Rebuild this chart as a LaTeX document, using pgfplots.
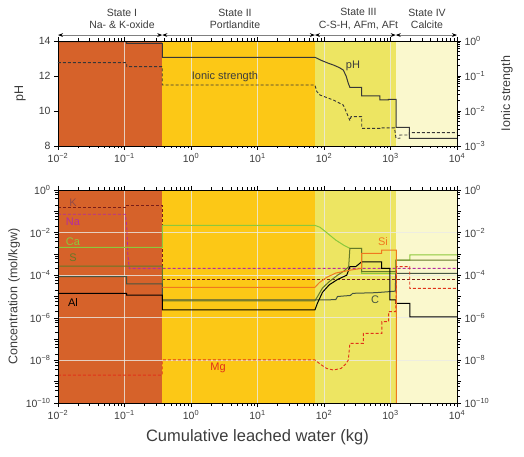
\documentclass[border=0pt]{standalone}
\usepackage{fontspec}
\setmainfont{Liberation Sans}
\usepackage{pgfplots}
\pgfplotsset{compat=1.18}
\usetikzlibrary{arrows.meta}

\definecolor{stI}{RGB}{214,98,42}
\definecolor{stII}{RGB}{252,200,22}
\definecolor{stIII}{RGB}{237,229,98}
\definecolor{stIV}{RGB}{250,248,205}
\definecolor{gridc}{RGB}{235,235,230}
\definecolor{pHc}{RGB}{55,55,55}
\definecolor{Kc}{RGB}{120,30,25}
\definecolor{Nac}{RGB}{180,45,160}
\definecolor{Cac}{RGB}{140,200,60}
\definecolor{Sc}{RGB}{100,120,40}
\definecolor{Cc}{RGB}{70,85,65}
\definecolor{Sic}{RGB}{240,120,30}
\definecolor{Mgc}{RGB}{225,50,25}
\definecolor{txt}{RGB}{60,60,60}

\tikzset{
  ln/.style={line width=1pt},
  ds/.style={line width=0.9pt, dash pattern=on 3pt off 2pt},
  gl/.style={gridc, opacity=0.8, line width=0.8pt},
  sa/.style={gray, line width=0.8pt, {Stealth[black,length=5pt]}-{Stealth[black,length=5pt]}},
}

\begin{document}
\begin{tikzpicture}
\useasboundingbox (-58pt,-54pt) rectangle (466pt,403pt);

%================ TOP PANEL (pH) =================
\begin{axis}[
  at={(0pt,257pt)}, anchor=south west,
  scale only axis, width=399pt, height=105pt,
  /pgf/number format/assume math mode=true,
  xmode=log, xmin=0.01, xmax=10000,
  xtick={0.01,0.1,1,10,100,1000,10000},
  xticklabels={10\textsuperscript{−2},10\textsuperscript{−1},10\textsuperscript{0},10\textsuperscript{1},10\textsuperscript{2},10\textsuperscript{3},10\textsuperscript{4}},
  minor xtick={0.02,0.03,0.04,0.05,0.06,0.07,0.08,0.09,0.2,0.3,0.4,0.5,0.6,0.7,0.8,0.9,2,3,4,5,6,7,8,9,20,30,40,50,60,70,80,90,200,300,400,500,600,700,800,900,2000,3000,4000,5000,6000,7000,8000,9000},
  tick style={black, line width=0.6pt},
  major tick length=4pt, minor tick length=2.5pt,
  axis line style={black, line width=0.8pt},
  tick label style={font=\fontsize{10.5}{12}\selectfont, text=txt},
  axis on top, tick align=outside,
  ymin=8, ymax=14, ytick={8,10,12,14}, ytick pos=left,
  clip=false,
  ylabel={pH},
  ylabel style={at={(axis description cs:-0.095,0.5)}, anchor=center, font=\fontsize{12.5}{14}\selectfont, text=txt}]
  \fill[stI] (axis cs:0.01,8) rectangle (axis cs:0.37,14);
  \fill[stII] (axis cs:0.37,8) rectangle (axis cs:73,14);
  \fill[stIII] (axis cs:73,8) rectangle (axis cs:1200,14);
  \fill[stIV] (axis cs:1200,8) rectangle (axis cs:10000,14);
  \draw[gl] (axis cs:0.1,8) -- (axis cs:0.1,14);
  \draw[gl] (axis cs:1,8) -- (axis cs:1,14);
  \draw[gl] (axis cs:10,8) -- (axis cs:10,14);
  \draw[gl] (axis cs:100,8) -- (axis cs:100,14);
  \draw[gl] (axis cs:1000,8) -- (axis cs:1000,14);
  \draw[sa] (axis cs:0.01,14.34) -- (axis cs:0.37,14.34);
  \draw[sa] (axis cs:0.37,14.34) -- (axis cs:73,14.34);
  \draw[sa] (axis cs:73,14.34) -- (axis cs:1200,14.34);
  \draw[sa] (axis cs:1200,14.34) -- (axis cs:10000,14.34);
  \node[font=\fontsize{10.5}{12.5}\selectfont, text=txt, align=center] at (axis cs:0.0916,15.27) {State I\\Na- \& K-oxide};
  \node[font=\fontsize{10.5}{12.5}\selectfont, text=txt, align=center] at (axis cs:4.59,15.27) {State II\\Portlandite};
  \node[font=\fontsize{10.5}{12.5}\selectfont, text=txt, align=center] at (axis cs:330,15.27) {State III\\C-S-H, AFm, AFt};
  \node[font=\fontsize{10.5}{12.5}\selectfont, text=txt, align=center] at (axis cs:3540,15.27) {State IV\\Calcite};
  \addplot[ln, pHc] coordinates {(0.01,13.96)(0.108,13.96)(0.108,13.87)(0.37,13.87)(0.37,13.07)(73,13.07)(90,12.9)(116,12.73)(138,12.63)(170,12.48)(195,12.34)(215,12.0)(232,11.58)(245,11.35)(369,11.35)(369,10.87)(695,10.87)(695,10.63)(927,10.63)(927,10.66)(1210,10.66)(1210,9.07)(1920,9.07)(1920,8.44)(10000,8.44)};
  \node[font=\fontsize{11}{13}\selectfont, text=txt] at (axis cs:273,12.57) {pH};
  \node[font=\fontsize{11}{13}\selectfont, text=txt] at (axis cs:3.24,11.94) {Ionic strength};
\end{axis}

\begin{axis}[
  at={(0pt,257pt)}, anchor=south west,
  scale only axis, width=399pt, height=105pt,
  /pgf/number format/assume math mode=true,
  xmode=log, xmin=0.01, xmax=10000,
  ymode=log, ymin=0.001, ymax=1,
  axis x line=none, axis y line*=right,
  tick style={black, line width=0.6pt},
  major tick length=4pt, minor tick length=2.5pt,
  axis line style={black, line width=0.8pt},
  tick label style={font=\fontsize{10.5}{12}\selectfont, text=txt},
  axis on top, tick align=outside,
  ytick={0.001,0.01,0.1,1},
  yticklabels={10\textsuperscript{−3},10\textsuperscript{−2},10\textsuperscript{−1},10\textsuperscript{0}},
  minor ytick={0.002,0.003,0.004,0.005,0.006,0.007,0.008,0.009,0.02,0.03,0.04,0.05,0.06,0.07,0.08,0.09,0.2,0.3,0.4,0.5,0.6,0.7,0.8,0.9},
  ylabel={Ionic strength},
  ylabel style={at={(axis description cs:1.125,0.5)}, anchor=center, font=\fontsize{12.5}{14}\selectfont, text=txt}]
  \addplot[ds, pHc] coordinates {(0.01,0.24)(0.108,0.24)(0.108,0.185)(0.37,0.185)(0.37,0.0553)(73,0.0553)(78,0.036)(87,0.0286)(138,0.0206)(195,0.0148)(232,0.0069)(245,0.0053)(255,0.0069)(369,0.0069)(369,0.0032)(695,0.0032)(695,0.0033)(1150,0.0033)(1210,0.00166)(1380,0.00166)(1380,0.00206)(1920,0.00206)(1920,0.0024)(10000,0.0024)};
\end{axis}

%================ BOTTOM PANEL =================
\begin{axis}[
  at={(0pt,0pt)}, anchor=south west,
  scale only axis, width=399pt, height=213pt,
  /pgf/number format/assume math mode=true,
  xmode=log, xmin=0.01, xmax=10000,
  xtick={0.01,0.1,1,10,100,1000,10000},
  xticklabels={10\textsuperscript{−2},10\textsuperscript{−1},10\textsuperscript{0},10\textsuperscript{1},10\textsuperscript{2},10\textsuperscript{3},10\textsuperscript{4}},
  minor xtick={0.02,0.03,0.04,0.05,0.06,0.07,0.08,0.09,0.2,0.3,0.4,0.5,0.6,0.7,0.8,0.9,2,3,4,5,6,7,8,9,20,30,40,50,60,70,80,90,200,300,400,500,600,700,800,900,2000,3000,4000,5000,6000,7000,8000,9000},
  tick style={black, line width=0.6pt},
  major tick length=4pt, minor tick length=2.5pt,
  axis line style={black, line width=0.8pt},
  tick label style={font=\fontsize{10.5}{12}\selectfont, text=txt},
  axis on top, tick align=outside,
  ymode=log, ymin=1e-10, ymax=1,
  ytick={1e-10,1e-9,1e-8,1e-7,1e-6,1e-5,1e-4,1e-3,1e-2,1e-1,1},
  yticklabels={10\textsuperscript{−10},,10\textsuperscript{−8},,10\textsuperscript{−6},,10\textsuperscript{−4},,10\textsuperscript{−2},,10\textsuperscript{0}},
  minor ytick={2e-10,4e-10,6e-10,8e-10,2e-9,4e-9,6e-9,8e-9,2e-8,4e-8,6e-8,8e-8,2e-7,4e-7,6e-7,8e-7,2e-6,4e-6,6e-6,8e-6,2e-5,4e-5,6e-5,8e-5,2e-4,4e-4,6e-4,8e-4,2e-3,4e-3,6e-3,8e-3,2e-2,4e-2,6e-2,8e-2,0.2,0.4,0.6,0.8},
  ytick pos=left,
  ylabel={Concentration (mol/kgw)},
  ylabel style={at={(axis description cs:-0.11,0.5)}, anchor=center, font=\fontsize{12.5}{14}\selectfont, text=txt},
  xlabel={Cumulative leached water (kg)},
  xlabel style={at={(axis description cs:0.5,-0.16)}, anchor=center, font=\fontsize{16.5}{19}\selectfont, text=txt},
  ]
  \fill[stI] (axis cs:0.01,1e-10) rectangle (axis cs:0.37,1);
  \fill[stII] (axis cs:0.37,1e-10) rectangle (axis cs:73,1);
  \fill[stIII] (axis cs:73,1e-10) rectangle (axis cs:1200,1);
  \fill[stIV] (axis cs:1200,1e-10) rectangle (axis cs:10000,1);
  \draw[gl] (axis cs:0.1,1e-10) -- (axis cs:0.1,1);
  \draw[gl] (axis cs:1,1e-10) -- (axis cs:1,1);
  \draw[gl] (axis cs:10,1e-10) -- (axis cs:10,1);
  \draw[gl] (axis cs:100,1e-10) -- (axis cs:100,1);
  \draw[gl] (axis cs:1000,1e-10) -- (axis cs:1000,1);
  \draw[gl] (axis cs:0.01,1e-2) -- (axis cs:10000,1e-2);
  \draw[gl] (axis cs:0.01,1e-4) -- (axis cs:10000,1e-4);
  \draw[gl] (axis cs:0.01,1e-6) -- (axis cs:10000,1e-6);
  \draw[gl] (axis cs:0.01,1e-8) -- (axis cs:10000,1e-8);
  % K
  \addplot[ds, Kc] coordinates {(0.01,0.155)(0.108,0.155)(0.108,0.19)(0.37,0.19)(0.37,6.61e-5)(10000,6.61e-5)};
  % Na
  \addplot[ds, Nac] coordinates {(0.01,0.0724)(0.103,0.0724)(0.108,0.02)(0.112,1e-3)(0.118,2.09e-4)(10000,2.09e-4)};
  % Ca
  \addplot[ln, Cac] coordinates {(0.01,2.04e-3)(0.37,2.04e-3)(0.37,0.0219)(73,0.0219)(87,0.0178)(100,0.0126)(120,7.94e-3)(150,4.47e-3)(200,2.51e-3)(245,1.82e-3)(369,1.82e-3)(369,1.23e-4)(1200,1.23e-4)(1200,5.13e-4)(1950,5.13e-4)(1950,8.91e-4)(10000,8.91e-4)};
  % S
  \addplot[ln, Sc] coordinates {(0.01,2.69e-4)(0.37,2.69e-4)(0.37,6.31e-6)(73,6.31e-6)(80,1e-5)(95,2.51e-5)(120,5.01e-5)(160,1e-4)(200,1.58e-4)(235,2.51e-4)(245,1.82e-3)(369,1.82e-3)(369,1.48e-4)(1200,1.48e-4)(1200,5.13e-4)(10000,5.13e-4)};
  % C
  \addplot[ln, Cc] coordinates {(0.01,8.51e-5)(0.108,8.51e-5)(0.108,3.89e-5)(0.37,3.89e-5)(0.37,6.9e-6)(73,6.9e-6)(150,7.08e-6)(160,1e-5)(250,1.12e-5)(270,1.41e-5)(600,1.51e-5)(1180,1.78e-5)(1200,1.23e-4)(10000,1.23e-4)};
  % Al
  \addplot[ln, black] coordinates {(0.01,1.41e-5)(0.108,1.41e-5)(0.108,1.17e-5)(0.37,1.17e-5)(0.37,2.34e-6)(73,2.34e-6)(80,5.01e-6)(95,1.58e-5)(120,3.55e-5)(160,6.31e-5)(220,1e-4)(245,2.51e-4)(300,2.51e-4)(369,4.27e-4)(738,4.27e-4)(738,2.09e-4)(977,2.09e-4)(977,6.92e-6)(1200,6.92e-6)(1200,4.79e-6)(1950,4.79e-6)(1950,1.12e-6)(10000,1.12e-6)};
  % Si
  \addplot[ln, Sic] coordinates {(0.37,2.69e-5)(73,2.69e-5)(85,4.47e-5)(110,7.94e-5)(150,1.26e-4)(250,1.74e-4)(369,2.09e-4)(369,1.07e-3)(738,1.07e-3)(738,1.51e-3)(1230,1.51e-3)(1230,1e-11)};
  % Mg
  \addplot[ds, Mgc] coordinates {(0.01,2.04e-9)(0.37,2.04e-9)(0.37,1.05e-8)(73,1.05e-8)(90,6.31e-9)(110,4.17e-9)(138,3.55e-9)(180,4.17e-9)(215,7.08e-9)(232,1.05e-8)(245,6.31e-8)(390,6.31e-8)(390,1.86e-7)(740,1.86e-7)(740,6.61e-7)(935,6.61e-7)(935,1.95e-6)(1200,1.95e-6)(1230,2.51e-4)(1950,2.51e-4)(1950,2.4e-5)(10000,2.4e-5)};
  \node[font=\fontsize{11}{13}\selectfont, text=Kc!80!white] at (axis cs:0.0168,0.245) {K};
  \node[font=\fontsize{11}{13}\selectfont, text=Nac] at (axis cs:0.0168,0.0316) {Na};
  \node[font=\fontsize{11}{13}\selectfont, text=Cac] at (axis cs:0.0168,3.6e-3) {Ca};
  \node[font=\fontsize{11}{13}\selectfont, text=Sc] at (axis cs:0.0168,6.4e-4) {S};
  \node[font=\fontsize{11}{13}\selectfont, text=black] at (axis cs:0.0168,5e-6) {Al};
  \node[font=\fontsize{11}{13}\selectfont, text=Sic] at (axis cs:771,3.6e-3) {Si};
  \node[font=\fontsize{11}{13}\selectfont, text=Cc] at (axis cs:585,6.9e-6) {C};
  \node[font=\fontsize{11}{13}\selectfont, text=Mgc] at (axis cs:2.55,4.4e-9) {Mg};
\end{axis}

\begin{axis}[
  at={(0pt,0pt)}, anchor=south west,
  scale only axis, width=399pt, height=213pt,
  /pgf/number format/assume math mode=true,
  xmode=log, xmin=0.01, xmax=10000,
  ymode=log, ymin=1e-10, ymax=1,
  axis x line=none, axis y line*=right,
  tick style={black, line width=0.6pt},
  major tick length=4pt, minor tick length=2.5pt,
  axis line style={black, line width=0.8pt},
  tick label style={font=\fontsize{10.5}{12}\selectfont, text=txt},
  axis on top, tick align=outside,
  ytick={1e-10,1e-9,1e-8,1e-7,1e-6,1e-5,1e-4,1e-3,1e-2,1e-1,1},
  yticklabels={10\textsuperscript{−10},,10\textsuperscript{−8},,10\textsuperscript{−6},,10\textsuperscript{−4},,10\textsuperscript{−2},,10\textsuperscript{0}},
  minor ytick={2e-10,4e-10,6e-10,8e-10,2e-9,4e-9,6e-9,8e-9,2e-8,4e-8,6e-8,8e-8,2e-7,4e-7,6e-7,8e-7,2e-6,4e-6,6e-6,8e-6,2e-5,4e-5,6e-5,8e-5,2e-4,4e-4,6e-4,8e-4,2e-3,4e-3,6e-3,8e-3,2e-2,4e-2,6e-2,8e-2,0.2,0.4,0.6,0.8}]
\end{axis}
\end{tikzpicture}
\end{document}
